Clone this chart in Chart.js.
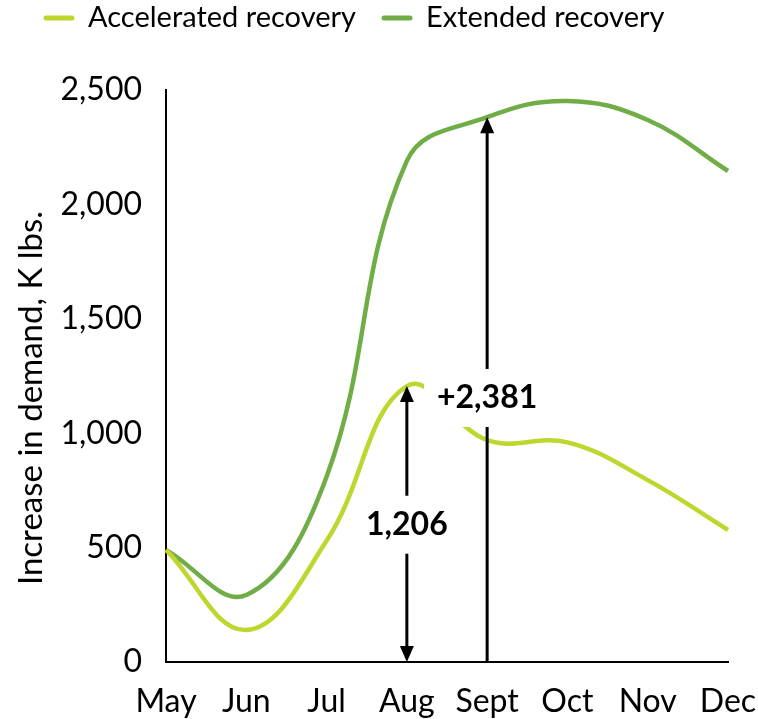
<!DOCTYPE html>
<html>
<head>
<meta charset="utf-8">
<script src="https://cdn.jsdelivr.net/npm/chart.js@4"></script>
<style>
  html, body { margin: 0; padding: 0; background: #fff; }
  #wrap { width: 758px; height: 719px; position: relative; }
</style>
</head>
<body>
<div id="wrap"><canvas id="chart"></canvas></div>
<script>
(function () {
    'use strict';

    // Data
    const months = ['May', 'Jun', 'Jul', 'Aug', 'Sept', 'Oct', 'Nov', 'Dec'];
    const accelerated = [490, 140, 530, 1206, 970, 960, 795, 577];
    const extended = [490, 293, 810, 2190, 2381, 2452, 2369, 2146];
    const yTicks = [0, 500, 1000, 1500, 2000, 2500];
    const yTitle = 'Increase in demand, K lbs.';

    const FONT = "'Lato', 'Open Sans', sans-serif";
    const fmt = v => v.toLocaleString('en-US');

    // Arrow annotations: drawn from the series values through the scales
    const annotations = [
        { index: 3, value: accelerated[3], text: fmt(accelerated[3]), both: true, labelValue: 600 },
        { index: 4, value: extended[4], text: '+' + fmt(extended[4]), both: false, labelValue: 1154 }
    ];

    // Legend + axis title drawn like the reference
    const textPlugin = {
        id: 'texts',
        afterDraw(chart) {
            const ctx = chart.ctx;
            ctx.save();
            ctx.font = '29px ' + FONT;
            ctx.textBaseline = 'middle';
            ctx.textAlign = 'left';
            let x = 44;
            const y = 18;
            chart.data.datasets.forEach(ds => {
                ctx.strokeStyle = ds.borderColor;
                ctx.lineWidth = 5;
                ctx.lineCap = 'round';
                ctx.beginPath();
                ctx.moveTo(x + 2, y);
                ctx.lineTo(x + 28, y);
                ctx.stroke();
                ctx.fillStyle = '#000';
                ctx.fillText(ds.label, x + 44, y);
                x += 44 + ctx.measureText(ds.label).width + 26;
            });

            // rotated y title
            ctx.translate(31, 398);
            ctx.rotate(-Math.PI / 2);
            ctx.font = '33px ' + FONT;
            ctx.textAlign = 'center';
            ctx.fillStyle = '#000';
            ctx.fillText(yTitle, 0, 0);
            ctx.restore();
        }
    };

    const arrowPlugin = {
        id: 'arrows',
        afterDatasetsDraw(chart) {
            const ctx = chart.ctx;
            const x = chart.scales.x;
            const y = chart.scales.y;
            const y0 = y.getPixelForValue(0);
            ctx.save();
            annotations.forEach(a => {
                const px = x.getPixelForValue(a.index);
                const top = y.getPixelForValue(a.value);
                ctx.strokeStyle = '#000';
                ctx.fillStyle = '#000';
                ctx.lineWidth = 3;
                ctx.beginPath();
                ctx.moveTo(px, top + 14);
                ctx.lineTo(px, a.both ? y0 - 14 : y0);
                ctx.stroke();
                ctx.beginPath();
                ctx.moveTo(px, top);
                ctx.lineTo(px - 7, top + 16);
                ctx.lineTo(px + 7, top + 16);
                ctx.closePath();
                ctx.fill();
                if (a.both) {
                    ctx.beginPath();
                    ctx.moveTo(px, y0);
                    ctx.lineTo(px - 7, y0 - 16);
                    ctx.lineTo(px + 7, y0 - 16);
                    ctx.closePath();
                    ctx.fill();
                }
            });
            annotations.forEach(a => {
                const px = x.getPixelForValue(a.index);
                const py = y.getPixelForValue(a.labelValue);
                ctx.font = 'bold 32px ' + FONT;
                const w = ctx.measureText(a.text).width;
                ctx.fillStyle = '#fff';
                ctx.fillRect(px - w / 2 - 13, py - 29, w + 26, 58);
                ctx.fillStyle = '#000';
                ctx.textAlign = 'center';
                ctx.textBaseline = 'middle';
                ctx.fillText(a.text, px, py);
            });
            ctx.restore();
        }
    };

    new Chart(document.getElementById('chart'), {
        type: 'line',
        data: {
            labels: months,
            datasets: [
                {
                    label: 'Accelerated recovery',
                    data: accelerated,
                    borderColor: '#BFD62F',
                    backgroundColor: '#BFD62F',
                    borderWidth: 4.5,
                    pointRadius: 0,
                    tension: 0.4
                },
                {
                    label: 'Extended recovery',
                    data: extended,
                    borderColor: '#70AD47',
                    backgroundColor: '#70AD47',
                    borderWidth: 4.5,
                    pointRadius: 0,
                    tension: 0.4
                }
            ]
        },
        options: {
            responsive: true,
            maintainAspectRatio: false,
            animation: false,
            layout: { padding: { left: 0, right: 30, top: 90, bottom: 0 } },
            plugins: {
                legend: { display: false },
                tooltip: { enabled: false }
            },
            scales: {
                x: {
                    offset: false,
                    afterFit: axis => {
                        axis.height = 57;
                        axis.paddingLeft = 0;
                        axis.paddingRight = 0;
                    },
                    grid: { display: false, drawTicks: false },
                    border: { color: '#000', width: 2 },
                    ticks: { color: '#000', padding: 20, maxRotation: 0, font: { family: FONT, size: 32 } }
                },
                y: {
                    min: 0,
                    max: 2500,
                    afterBuildTicks: axis => { axis.ticks = yTicks.map(v => ({ value: v })); },
                    afterFit: axis => { axis.width = 166; },
                    grid: { display: false, drawTicks: false },
                    border: { color: '#000', width: 2 },
                    ticks: {
                        color: '#000',
                        padding: 24,
                        font: { family: FONT, size: 32 },
                        callback: v => fmt(v)
                    }
                }
            }
        },
        plugins: [arrowPlugin, textPlugin]
    });
})();
</script>
</body>
</html>
